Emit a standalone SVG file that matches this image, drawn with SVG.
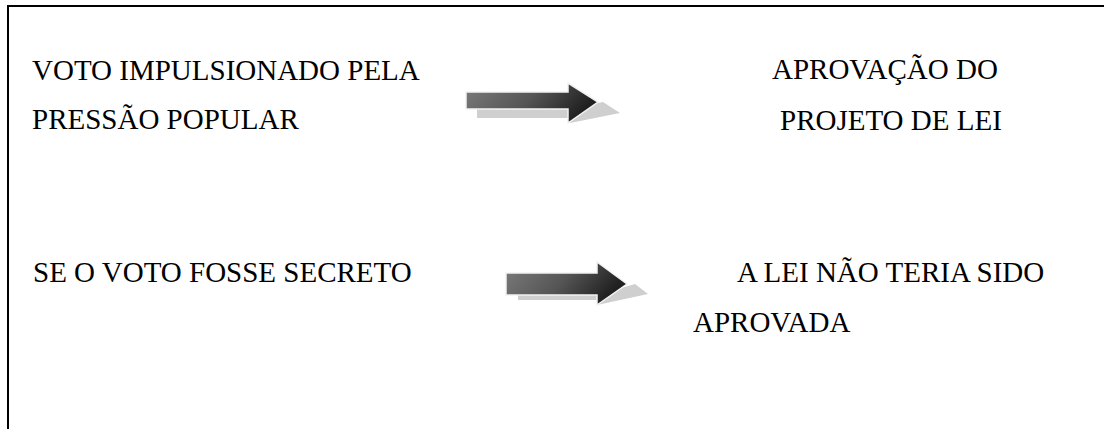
<svg xmlns="http://www.w3.org/2000/svg" width="1104" height="429" viewBox="0 0 1104 429">
<style>
  .t { font-family: "Liberation Serif", "Times New Roman", serif; font-size: 29px; fill: #000; }
  .shadow { fill: #cfcfcf; }
  .arrow { stroke: #f2f2f2; stroke-width: 1.5; stroke-linejoin: miter; }
</style>
<defs>
  <linearGradient id="ag" x1="0" y1="0" x2="1" y2="0.3">
    <stop offset="0" stop-color="#7c7c7c"/>
    <stop offset="0.55" stop-color="#555555"/>
    <stop offset="1" stop-color="#202020"/>
  </linearGradient>
</defs>
<rect x="0" y="0" width="1104" height="429" fill="#fff"/>
<rect x="8" y="6" width="1110" height="440" fill="none" stroke="#000" stroke-width="2"/>

<g id="n1"><text class="t" x="32" y="80">VOTO IMPULSIONADO PELA</text><text class="t" x="32" y="129">PRESSÃO POPULAR</text></g>
<g id="n2"><text class="t" x="772" y="79">APROVAÇÃO DO</text><text class="t" x="780" y="130">PROJETO DE LEI</text></g>
<g id="n3"><text class="t" x="33" y="282">SE O VOTO FOSSE SECRETO</text></g>
<g id="n4"><text class="t" x="737" y="282">A LEI NÃO TERIA SIDO</text><text class="t" x="693" y="332">APROVADA</text></g>

<g id="connectors">
  <g id="a1">
    <polygon class="shadow" points="477,109 568,109 603,102 620,113 570,123 568,118 477,118"/>
    <polygon class="arrow" fill="url(#ag)" points="466,92 568,92 568,83 598,102 568,123 568,109 466,109"/>
  </g>
  <g id="a2">
    <polygon class="shadow" points="518,295 597,295 635,284 648,294 597,305 597,300 518,300"/>
    <polygon class="arrow" fill="url(#ag)" points="506,273 597,273 597,262 627,284 597,305 597,295 506,295"/>
  </g>
</g>
</svg>
